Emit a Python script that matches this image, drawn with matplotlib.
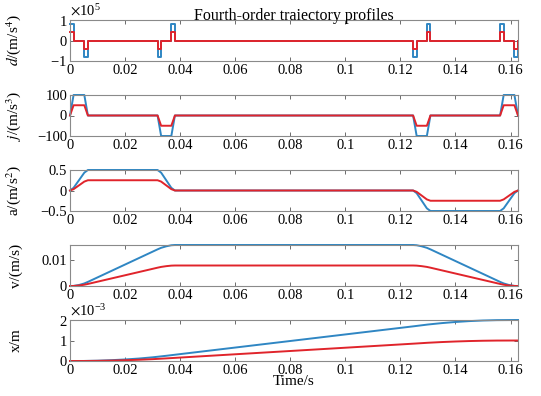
import matplotlib
matplotlib.use("Agg")
import matplotlib.pyplot as plt
from matplotlib.ticker import ScalarFormatter

plt.rcParams["font.family"] = ["Liberation Serif", "DejaVu Serif"]
plt.rcParams["mathtext.fontset"] = "stix"
plt.rcParams["axes.unicode_minus"] = True

BLUE = "#2f86c3"
RED = "#e0242b"

# breakpoints (s) for snap / jerk / acceleration
t_knot = [0, 0.0013, 0.0052, 0.0065, 0.0318, 0.0331, 0.0368, 0.0381,
          0.1246, 0.1259, 0.1296, 0.1309, 0.1562, 0.1575, 0.1614, 0.1627]

# snap (m/s^4), step values starting at each knot
snap_blue = [0.8e5, 0, -0.8e5, 0, -0.8e5, 0, 0.8e5, 0,
             -0.8e5, 0, 0.8e5, 0, 0.8e5, 0, -0.8e5, 0]
snap_red = [0.4e5, 0, -0.4e5, 0, -0.4e5, 0, 0.4e5, 0,
            -0.4e5, 0, 0.4e5, 0, 0.4e5, 0, -0.4e5, 0]

# jerk (m/s^3)
jerk_blue = [0, 100, 100, 0, 0, -100, -100, 0, 0, -100, -100, 0, 0, 100, 100, 0]
jerk_red = [0, 50, 50, 0, 0, -50, -50, 0, 0, -50, -50, 0, 0, 50, 50, 0]

# acceleration (m/s^2)
acc_blue = [0, 0.065, 0.435, 0.5, 0.5, 0.435, 0.065, 0,
            0, -0.065, -0.435, -0.5, -0.5, -0.435, -0.065, 0]
acc_red = [0, 0.0325, 0.2175, 0.25, 0.25, 0.2175, 0.0325, 0,
           0, -0.0325, -0.2175, -0.25, -0.25, -0.2175, -0.0325, 0]

# velocity (m/s)
t_vel = [0, 0.0013, 0.0033, 0.0052, 0.0065, 0.0318, 0.0331, 0.035, 0.0368, 0.0381,
         0.1246, 0.1259, 0.1277, 0.1296, 0.1309, 0.1562, 0.1575, 0.1594, 0.1614, 0.1627]
vel_blue = [0, 0.00003, 0.0004, 0.001, 0.0016, 0.0143, 0.0149, 0.0155, 0.0159, 0.016,
            0.016, 0.0159, 0.0155, 0.0149, 0.0143, 0.0016, 0.001, 0.0004, 0.00003, 0]
vel_red = [0, 0.000015, 0.0002, 0.0005, 0.0008, 0.00715, 0.00745, 0.00775, 0.00795, 0.008,
           0.008, 0.00795, 0.00775, 0.00745, 0.00715, 0.0008, 0.0005, 0.0002, 0.000015, 0]

# displacement (m)
t_pos = [0, 0.005, 0.01, 0.015, 0.02, 0.025, 0.03, 0.035, 0.04, 0.06, 0.08, 0.1,
         0.12, 0.125, 0.13, 0.135, 0.14, 0.145, 0.15, 0.155, 0.1627]
pos_blue = [0, 0.002e-3, 0.015e-3, 0.04e-3, 0.075e-3, 0.12e-3, 0.18e-3, 0.255e-3, 0.336e-3,
            0.656e-3, 0.976e-3, 1.296e-3, 1.616e-3, 1.696e-3, 1.78e-3, 1.848e-3, 1.903e-3,
            1.946e-3, 1.976e-3, 1.993e-3, 2.0e-3]
pos_red = [0, 0.001e-3, 0.0075e-3, 0.02e-3, 0.0375e-3, 0.06e-3, 0.09e-3, 0.1275e-3, 0.168e-3,
           0.328e-3, 0.488e-3, 0.648e-3, 0.808e-3, 0.848e-3, 0.89e-3, 0.924e-3, 0.9515e-3,
           0.973e-3, 0.988e-3, 0.9965e-3, 1.0e-3]

x_ticks = [0, 0.02, 0.04, 0.06, 0.08, 0.1, 0.12, 0.14, 0.16]
x_ticklabels = ["0", "0.02", "0.04", "0.06", "0.08", "0.1", "0.12", "0.14", "0.16"]
T_END = 0.1627
LW = 1.4

fig = plt.figure(figsize=(5.41, 3.96), dpi=100)
W, H = 541, 396
left, width = 70 / W, 448 / W
tops = [20, 95, 170, 245, 320]
h_px = 41
axes = [fig.add_axes([left, (H - t - h_px) / H, width, h_px / H]) for t in tops]

ax = axes[0]
ax.step(t_knot, snap_blue, where="post", color=BLUE, lw=LW, clip_on=False)
ax.step(t_knot, snap_red, where="post", color=RED, lw=LW, clip_on=False)
ax.set_ylim(-1e5, 1e5)
ax.set_yticks([-1e5, 0, 1e5])
fmt = ScalarFormatter(useMathText=True)
fmt.set_powerlimits((-2, 2))
ax.yaxis.set_major_formatter(fmt)
ax.set_ylabel(r"$d$/(m/s$^4$)")
ax.set_title("Fourth-order traiectory profiles", fontsize=11.5, pad=0)

ax = axes[1]
ax.plot(t_knot, jerk_blue, color=BLUE, lw=LW, clip_on=False)
ax.plot(t_knot, jerk_red, color=RED, lw=LW, clip_on=False)
ax.set_ylim(-100, 100)
ax.set_yticks([-100, 0, 100])
ax.set_ylabel(r"$j$/(m/s$^3$)")

ax = axes[2]
ax.plot(t_knot, acc_blue, color=BLUE, lw=LW, clip_on=False)
ax.plot(t_knot, acc_red, color=RED, lw=LW, clip_on=False)
ax.set_ylim(-0.5, 0.5)
ax.set_yticks([-0.5, 0, 0.5])
ax.set_yticklabels(["\u22120.5", "0", "0.5"])
ax.set_ylabel(r"a/(m/s$^2$)")

ax = axes[3]
ax.plot(t_vel, vel_blue, color=BLUE, lw=LW, clip_on=False)
ax.plot(t_vel, vel_red, color=RED, lw=LW, clip_on=False)
ax.set_ylim(0, 0.016)
ax.set_yticks([0, 0.01])
ax.set_yticklabels(["0", "0.01"])
ax.set_ylabel("v/(m/s)")

ax = axes[4]
ax.plot(t_pos, pos_blue, color=BLUE, lw=LW, clip_on=False)
ax.plot(t_pos, pos_red, color=RED, lw=LW, clip_on=False)
ax.set_ylim(0, 2e-3)
ax.set_yticks([0, 1e-3, 2e-3])
fmt = ScalarFormatter(useMathText=True)
fmt.set_powerlimits((-2, 2))
ax.yaxis.set_major_formatter(fmt)
ax.set_ylabel("x/m")
ax.set_xlabel("Time/s", fontsize=11, labelpad=-1)

for ax in axes:
    ax.set_xlim(0, T_END)
    ax.set_xticks(x_ticks)
    ax.set_xticklabels(x_ticklabels)
    ax.tick_params(direction="in", length=3, width=0.6, top=True, right=True,
                   labelsize=10.5, pad=2, color="#555555")
    for sp in ax.spines.values():
        sp.set_color("#8a8a8a")
        sp.set_linewidth(0.8)
    ax.yaxis.label.set_size(11)
    ax.yaxis.set_label_coords(-0.105, 0.5)
    ax.yaxis.get_offset_text().set_fontsize(10.5)

fig.savefig("out.png", dpi=100)
